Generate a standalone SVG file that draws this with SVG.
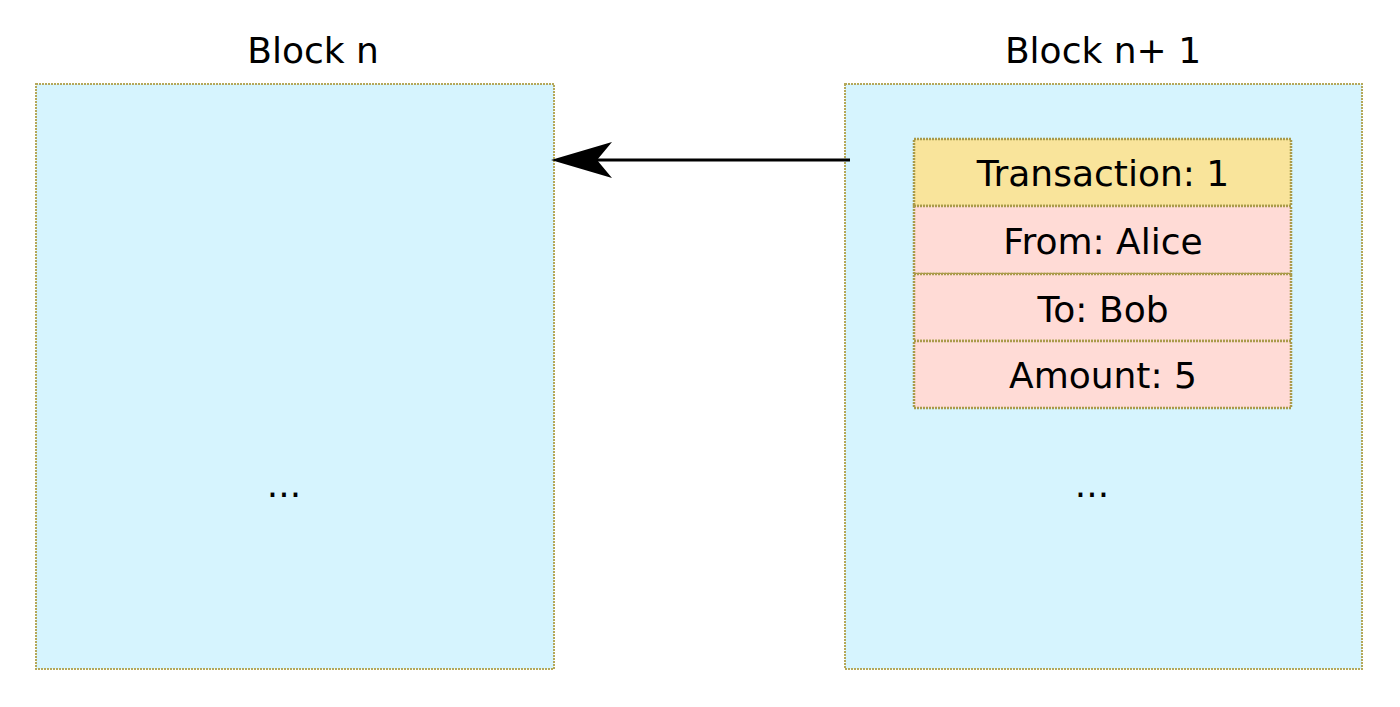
<svg xmlns="http://www.w3.org/2000/svg" width="1400" height="707" viewBox="0 0 1400 707">
<style>
text{font-family:"DejaVu Sans",sans-serif;font-size:36px;fill:#000;text-anchor:middle}
.blk{fill:#d6f4fe;stroke:#b5a85a;stroke-width:2;stroke-dasharray:2 1}
.hd{fill:#f9e49b;stroke:#a99a4a;stroke-width:2.5;stroke-dasharray:2 1}
.row{fill:#ffdbd6;stroke:#a99a4a;stroke-width:2.5;stroke-dasharray:2 1}
</style>
<rect width="1400" height="707" fill="#fff"/>
<g id="blockN">
<rect class="blk" x="36" y="84" width="518" height="585"/>
<text x="313" y="63">Block n</text>
<text x="284" y="497">...</text>
</g>
<g id="blockN1">
<rect class="blk" x="845" y="84" width="517" height="585"/>
<text x="1103" y="63">Block n+ 1</text>
<text x="1092" y="497">...</text>
</g>
<g id="tx">
<rect class="hd" x="914" y="139" width="377" height="67"/>
<text x="1103" y="186">Transaction: 1</text>
<rect class="row" x="914" y="206" width="377" height="68"/>
<text x="1103" y="254">From: Alice</text>
<rect class="row" x="914" y="274" width="377" height="67"/>
<text x="1103" y="322">To: Bob</text>
<rect class="row" x="914" y="341" width="377" height="67"/>
<text x="1103" y="388">Amount: 5</text>
</g>
<g id="connectors">
<line x1="850" y1="160" x2="590" y2="160" stroke="#000" stroke-width="3"/>
<path d="M551,160 L612,142 L597,160 L612,178 Z" fill="#000"/>
</g>
</svg>
